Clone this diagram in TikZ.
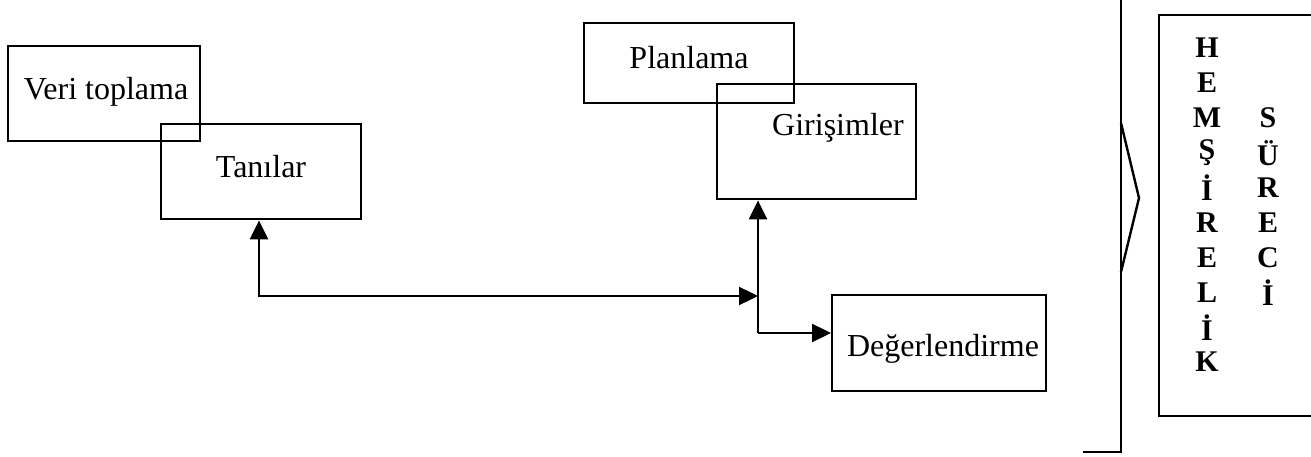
\documentclass[tikz,border=0pt]{standalone}
\usepackage{fontspec}
\setmainfont{Liberation Serif}
\usetikzlibrary{arrows.meta}
\tikzset{
  box/.style={draw, line width=2.4pt, inner sep=0pt, anchor=north west},
  lbl/.style={font=\fontsize{32}{36}\selectfont},
  letter/.style={font=\fontsize{30}{32}\selectfont\bfseries, inner sep=0pt},
  conn/.style={line width=2.4pt, arrows={-Triangle[length=19pt,width=18pt]}},
  both/.style={line width=2.4pt, arrows={Triangle[length=19pt,width=18pt]-Triangle[length=19pt,width=18pt]}},
  plain/.style={line width=2.4pt}
}
\begin{document}
\begin{tikzpicture}[x=1pt,y=-1pt]
\useasboundingbox (0,0) rectangle (1311,457);
% boxes
\node[box, minimum width=192pt, minimum height=95pt] (veri) at (7,45) {};
\node[lbl] at (106,92) {Veri toplama};
\node[box, minimum width=200pt, minimum height=95pt] (tan) at (160,123) {};
\node[lbl] at (261,167) {Tanılar};
\node[box, minimum width=210pt, minimum height=80pt] (plan) at (583,22) {};
\node[lbl] at (689,58) {Planlama};
\node[box, minimum width=199pt, minimum height=115pt] (gir) at (716,83) {};
\node[lbl] at (838,128) {Girişimler};
\node[box, minimum width=214pt, minimum height=96pt] (deg) at (831,294) {};
\node[lbl] at (943,349) {Değerlendirme};
% connectors
\coordinate (j1) at (758,296);
\coordinate (j2) at (758,333);
\coordinate (t1) at (259,296);
\draw[both] (tan.south -| t1) -- (t1) -- (j1);
\draw[conn] (j2) -- (gir.south -| j2);
\draw[conn] (j2) -- (deg.west |- j2);
% bracket
\draw[plain] (1083,452) -- (1121,452) -- (1121,0);
\draw[plain, line join=miter] (1121,123) -- (1139,198) -- (1121,272);
% right box
\draw[plain] (1311,15) -- (1159,15) -- (1159,416) -- (1311,416);
% letters
\foreach \l [count=\i] in {H,E,M,Ş,İ,R,E,L,İ,K}
  \node[letter] (h\i) at (1207,{48+34.9*(\i-1)}) {\l};
\foreach \l [count=\i] in {S,Ü,R,E,C,İ}
  \node[letter] (s\i) at (1268,{118+34.9*(\i-1)}) {\l};
\end{tikzpicture}
\end{document}
